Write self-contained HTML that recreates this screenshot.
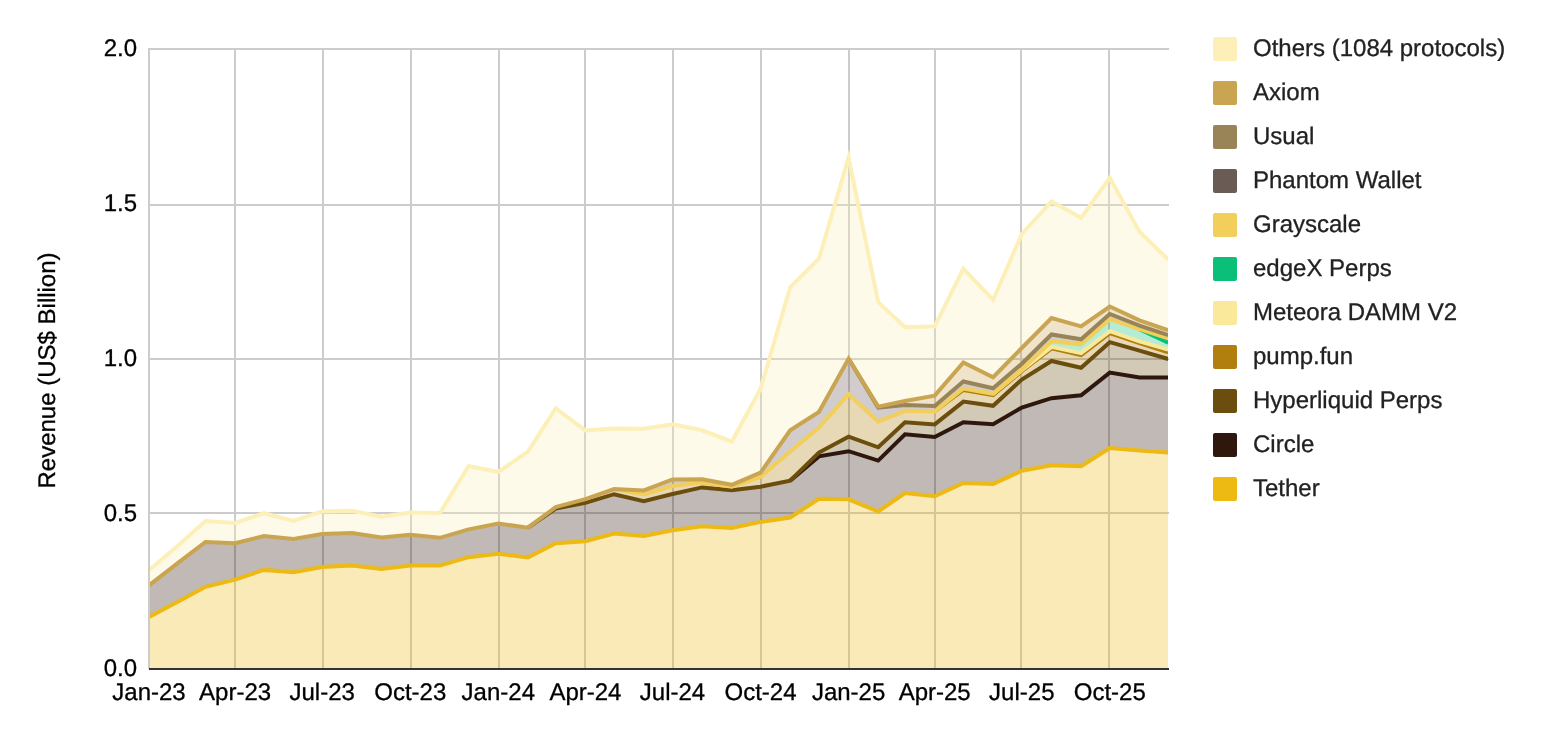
<!DOCTYPE html>
<html lang="en"><head><meta charset="utf-8"><title>Revenue (US$ Billion)</title>
<style>html,body{margin:0;padding:0;background:#fff}body{width:1542px;height:742px;overflow:hidden}svg{display:block}</style></head>
<body>
<svg width="1542" height="742" viewBox="0 0 1542 742" font-family="'Liberation Sans', Arial, sans-serif" font-size="24" text-rendering="geometricPrecision">
<defs><clipPath id="ca"><rect x="150" y="40" width="1018" height="640"/></clipPath></defs>
<rect width="1542" height="742" fill="#fff"/>
<g fill="#ccc">
<rect x="148" y="48" width="2" height="621"/>
<rect x="234" y="48" width="2" height="621"/>
<rect x="322" y="48" width="2" height="621"/>
<rect x="410" y="48" width="2" height="621"/>
<rect x="498" y="48" width="2" height="621"/>
<rect x="584" y="48" width="2" height="621"/>
<rect x="672" y="48" width="2" height="621"/>
<rect x="760" y="48" width="2" height="621"/>
<rect x="848" y="48" width="2" height="621"/>
<rect x="934" y="48" width="2" height="621"/>
<rect x="1020" y="48" width="2" height="621"/>
<rect x="1108" y="48" width="2" height="621"/>
<rect x="148" y="48" width="1021" height="2"/>
<rect x="148" y="204" width="1021" height="2"/>
<rect x="148" y="358" width="1021" height="2"/>
<rect x="148" y="512" width="1021" height="2"/>
</g>
<g clip-path="url(#ca)">
<polygon fill="#EDB913" fill-opacity="0.3" points="149,617.1 178.7,601.3 205.5,586.8 235.1,579.7 263.8,569.9 293.5,572.3 322.2,567.1 351.9,565.6 381.6,569 410.3,565.5 439.9,565.6 468.6,557.2 498.3,553.8 528,557.5 555.7,543.2 585.4,541.2 614.1,533.6 643.8,535.9 672.5,530.3 702.1,526.2 731.8,527.9 760.5,521.9 790.2,517.5 818.9,498.8 848.6,499.3 878.2,511.5 905,493 934.7,496.2 963.4,482.9 993.1,483.9 1021.8,470.8 1051.5,465.2 1081.1,466.3 1109.8,448 1139.5,450.6 1168.2,452.5 1168.2,668.4 1139.5,668.4 1109.8,668.4 1081.1,668.4 1051.5,668.4 1021.8,668.4 993.1,668.4 963.4,668.4 934.7,668.4 905,668.4 878.2,668.4 848.6,668.4 818.9,668.4 790.2,668.4 760.5,668.4 731.8,668.4 702.1,668.4 672.5,668.4 643.8,668.4 614.1,668.4 585.4,668.4 555.7,668.4 528,668.4 498.3,668.4 468.6,668.4 439.9,668.4 410.3,668.4 381.6,668.4 351.9,668.4 322.2,668.4 293.5,668.4 263.8,668.4 235.1,668.4 205.5,668.4 178.7,668.4 149,668.4"/>
<polygon fill="#2E180E" fill-opacity="0.3" points="149,585.4 178.7,562.3 205.5,542 235.1,543.2 263.8,536 293.5,539 322.2,534 351.9,533.1 381.6,537.4 410.3,534.8 439.9,537.8 468.6,529.4 498.3,523.5 528,527.7 555.7,508.5 585.4,502.9 614.1,494.2 643.8,501.2 672.5,494 702.1,487.4 731.8,490.3 760.5,486.7 790.2,480.6 818.9,456.4 848.6,451.2 878.2,460.6 905,434.3 934.7,437 963.4,422.2 993.1,424.2 1021.8,407.5 1051.5,398.2 1081.1,395.2 1109.8,372.6 1139.5,377.5 1168.2,377.6 1168.2,452.5 1139.5,450.6 1109.8,448 1081.1,466.3 1051.5,465.2 1021.8,470.8 993.1,483.9 963.4,482.9 934.7,496.2 905,493 878.2,511.5 848.6,499.3 818.9,498.8 790.2,517.5 760.5,521.9 731.8,527.9 702.1,526.2 672.5,530.3 643.8,535.9 614.1,533.6 585.4,541.2 555.7,543.2 528,557.5 498.3,553.8 468.6,557.2 439.9,565.6 410.3,565.5 381.6,569 351.9,565.6 322.2,567.1 293.5,572.3 263.8,569.9 235.1,579.7 205.5,586.8 178.7,601.3 149,617.1"/>
<polygon fill="#6B4D0E" fill-opacity="0.3" points="149,585.4 178.7,562.3 205.5,542 235.1,543.2 263.8,536 293.5,539 322.2,534 351.9,533.1 381.6,537.4 410.3,534.8 439.9,537.8 468.6,529.4 498.3,523.5 528,527.7 555.7,508.5 585.4,502.9 614.1,494.2 643.8,501.2 672.5,494 702.1,487.4 731.8,490.3 760.5,486.7 790.2,480.6 818.9,452.6 848.6,436.7 878.2,447.3 905,422.2 934.7,424.4 963.4,401.6 993.1,405.8 1021.8,379.5 1051.5,361 1081.1,367.7 1109.8,342.2 1139.5,350.7 1168.2,359 1168.2,377.6 1139.5,377.5 1109.8,372.6 1081.1,395.2 1051.5,398.2 1021.8,407.5 993.1,424.2 963.4,422.2 934.7,437 905,434.3 878.2,460.6 848.6,451.2 818.9,456.4 790.2,480.6 760.5,486.7 731.8,490.3 702.1,487.4 672.5,494 643.8,501.2 614.1,494.2 585.4,502.9 555.7,508.5 528,527.7 498.3,523.5 468.6,529.4 439.9,537.8 410.3,534.8 381.6,537.4 351.9,533.1 322.2,534 293.5,539 263.8,536 235.1,543.2 205.5,542 178.7,562.3 149,585.4"/>
<polygon fill="#B07F0D" fill-opacity="0.3" points="149,585.4 178.7,562.3 205.5,542 235.1,543.2 263.8,536 293.5,539 322.2,534 351.9,533.1 381.6,537.4 410.3,534.8 439.9,537.8 468.6,529.4 498.3,523.5 528,527.7 555.7,507.1 585.4,499.1 614.1,489.1 643.8,494.5 672.5,486 702.1,482.6 731.8,486.7 760.5,477 790.2,451.5 818.9,427.5 848.6,394.2 878.2,421.6 905,410.8 934.7,411.2 963.4,390 993.1,395.2 1021.8,371.2 1051.5,348.4 1081.1,355 1109.8,333.1 1139.5,343.2 1168.2,352.4 1168.2,359 1139.5,350.7 1109.8,342.2 1081.1,367.7 1051.5,361 1021.8,379.5 993.1,405.8 963.4,401.6 934.7,424.4 905,422.2 878.2,447.3 848.6,436.7 818.9,452.6 790.2,480.6 760.5,486.7 731.8,490.3 702.1,487.4 672.5,494 643.8,501.2 614.1,494.2 585.4,502.9 555.7,508.5 528,527.7 498.3,523.5 468.6,529.4 439.9,537.8 410.3,534.8 381.6,537.4 351.9,533.1 322.2,534 293.5,539 263.8,536 235.1,543.2 205.5,542 178.7,562.3 149,585.4"/>
<polygon fill="#FBE99B" fill-opacity="0.3" points="149,585.4 178.7,562.3 205.5,542 235.1,543.2 263.8,536 293.5,539 322.2,534 351.9,533.1 381.6,537.4 410.3,534.8 439.9,537.8 468.6,529.4 498.3,523.5 528,527.7 555.7,507.1 585.4,499.1 614.1,489.1 643.8,494.5 672.5,486 702.1,482.6 731.8,486.7 760.5,477 790.2,451.5 818.9,427.5 848.6,394.2 878.2,421.6 905,410.8 934.7,411.2 963.4,388.5 993.1,393.8 1021.8,370.2 1051.5,346.9 1081.1,353.1 1109.8,331.2 1139.5,341.3 1168.2,349.6 1168.2,352.4 1139.5,343.2 1109.8,333.1 1081.1,355 1051.5,348.4 1021.8,371.2 993.1,395.2 963.4,390 934.7,411.2 905,410.8 878.2,421.6 848.6,394.2 818.9,427.5 790.2,451.5 760.5,477 731.8,486.7 702.1,482.6 672.5,486 643.8,494.5 614.1,489.1 585.4,499.1 555.7,507.1 528,527.7 498.3,523.5 468.6,529.4 439.9,537.8 410.3,534.8 381.6,537.4 351.9,533.1 322.2,534 293.5,539 263.8,536 235.1,543.2 205.5,542 178.7,562.3 149,585.4"/>
<polygon fill="#0BBF78" fill-opacity="0.3" points="149,585.4 178.7,562.3 205.5,542 235.1,543.2 263.8,536 293.5,539 322.2,534 351.9,533.1 381.6,537.4 410.3,534.8 439.9,537.8 468.6,529.4 498.3,523.5 528,527.7 555.7,507.1 585.4,499.1 614.1,489.1 643.8,494.5 672.5,486 702.1,482.6 731.8,486.7 760.5,477 790.2,451.5 818.9,427.5 848.6,394.2 878.2,421.6 905,410.8 934.7,411.2 963.4,388.5 993.1,393.8 1021.8,369.4 1051.5,341.2 1081.1,344.3 1109.8,319.2 1139.5,329.2 1168.2,342.6 1168.2,349.6 1139.5,341.3 1109.8,331.2 1081.1,353.1 1051.5,346.9 1021.8,370.2 993.1,393.8 963.4,388.5 934.7,411.2 905,410.8 878.2,421.6 848.6,394.2 818.9,427.5 790.2,451.5 760.5,477 731.8,486.7 702.1,482.6 672.5,486 643.8,494.5 614.1,489.1 585.4,499.1 555.7,507.1 528,527.7 498.3,523.5 468.6,529.4 439.9,537.8 410.3,534.8 381.6,537.4 351.9,533.1 322.2,534 293.5,539 263.8,536 235.1,543.2 205.5,542 178.7,562.3 149,585.4"/>
<polygon fill="#F2CE5B" fill-opacity="0.3" points="149,585.4 178.7,562.3 205.5,542 235.1,543.2 263.8,536 293.5,539 322.2,534 351.9,533.1 381.6,537.4 410.3,534.8 439.9,537.8 468.6,529.4 498.3,523.5 528,527.7 555.7,507.1 585.4,499.1 614.1,489.1 643.8,494.5 672.5,486 702.1,482.6 731.8,486.7 760.5,477 790.2,451.5 818.9,427.5 848.6,394.2 878.2,421.6 905,410.8 934.7,411.2 963.4,388.5 993.1,393.8 1021.8,369.4 1051.5,341.2 1081.1,344.3 1109.8,319.2 1139.5,329.2 1168.2,338.4 1168.2,342.6 1139.5,329.2 1109.8,319.2 1081.1,344.3 1051.5,341.2 1021.8,369.4 993.1,393.8 963.4,388.5 934.7,411.2 905,410.8 878.2,421.6 848.6,394.2 818.9,427.5 790.2,451.5 760.5,477 731.8,486.7 702.1,482.6 672.5,486 643.8,494.5 614.1,489.1 585.4,499.1 555.7,507.1 528,527.7 498.3,523.5 468.6,529.4 439.9,537.8 410.3,534.8 381.6,537.4 351.9,533.1 322.2,534 293.5,539 263.8,536 235.1,543.2 205.5,542 178.7,562.3 149,585.4"/>
<polygon fill="#6B5B55" fill-opacity="0.3" points="149,585.4 178.7,562.3 205.5,542 235.1,543.2 263.8,536 293.5,539 322.2,534 351.9,533.1 381.6,537.4 410.3,534.8 439.9,537.8 468.6,529.4 498.3,523.5 528,527.7 555.7,507.1 585.4,499.1 614.1,489.1 643.8,490.4 672.5,479.4 702.1,479.2 731.8,484.8 760.5,472.6 790.2,430.3 818.9,412 848.6,358.7 878.2,407.6 905,404.9 934.7,406 963.4,381.5 993.1,388.3 1021.8,363.7 1051.5,334.5 1081.1,339.3 1109.8,314 1139.5,325.7 1168.2,335.1 1168.2,338.4 1139.5,329.2 1109.8,319.2 1081.1,344.3 1051.5,341.2 1021.8,369.4 993.1,393.8 963.4,388.5 934.7,411.2 905,410.8 878.2,421.6 848.6,394.2 818.9,427.5 790.2,451.5 760.5,477 731.8,486.7 702.1,482.6 672.5,486 643.8,494.5 614.1,489.1 585.4,499.1 555.7,507.1 528,527.7 498.3,523.5 468.6,529.4 439.9,537.8 410.3,534.8 381.6,537.4 351.9,533.1 322.2,534 293.5,539 263.8,536 235.1,543.2 205.5,542 178.7,562.3 149,585.4"/>
<polygon fill="#998458" fill-opacity="0.3" points="149,585.4 178.7,562.3 205.5,542 235.1,543.2 263.8,536 293.5,539 322.2,534 351.9,533.1 381.6,537.4 410.3,534.8 439.9,537.8 468.6,529.4 498.3,523.5 528,527.7 555.7,507.1 585.4,499.1 614.1,489.1 643.8,490.4 672.5,479.4 702.1,479.2 731.8,484.8 760.5,472.6 790.2,430.3 818.9,412 848.6,358.7 878.2,407.6 905,404.9 934.7,406 963.4,381.5 993.1,388.3 1021.8,363.7 1051.5,334.5 1081.1,339.3 1109.8,314 1139.5,325.7 1168.2,335.1 1168.2,335.1 1139.5,325.7 1109.8,314 1081.1,339.3 1051.5,334.5 1021.8,363.7 993.1,388.3 963.4,381.5 934.7,406 905,404.9 878.2,407.6 848.6,358.7 818.9,412 790.2,430.3 760.5,472.6 731.8,484.8 702.1,479.2 672.5,479.4 643.8,490.4 614.1,489.1 585.4,499.1 555.7,507.1 528,527.7 498.3,523.5 468.6,529.4 439.9,537.8 410.3,534.8 381.6,537.4 351.9,533.1 322.2,534 293.5,539 263.8,536 235.1,543.2 205.5,542 178.7,562.3 149,585.4"/>
<polygon fill="#C9A552" fill-opacity="0.3" points="149,585.4 178.7,562.3 205.5,542 235.1,543.2 263.8,536 293.5,539 322.2,534 351.9,533.1 381.6,537.4 410.3,534.8 439.9,537.8 468.6,529.4 498.3,523.5 528,527.7 555.7,507.1 585.4,499.1 614.1,489.1 643.8,490.4 672.5,479.4 702.1,479.2 731.8,484.8 760.5,472.6 790.2,430.3 818.9,412 848.6,358.7 878.2,406.6 905,401 934.7,395.6 963.4,362.5 993.1,377.2 1021.8,348 1051.5,318 1081.1,326.4 1109.8,306.5 1139.5,320.3 1168.2,330.3 1168.2,335.1 1139.5,325.7 1109.8,314 1081.1,339.3 1051.5,334.5 1021.8,363.7 993.1,388.3 963.4,381.5 934.7,406 905,404.9 878.2,407.6 848.6,358.7 818.9,412 790.2,430.3 760.5,472.6 731.8,484.8 702.1,479.2 672.5,479.4 643.8,490.4 614.1,489.1 585.4,499.1 555.7,507.1 528,527.7 498.3,523.5 468.6,529.4 439.9,537.8 410.3,534.8 381.6,537.4 351.9,533.1 322.2,534 293.5,539 263.8,536 235.1,543.2 205.5,542 178.7,562.3 149,585.4"/>
<polygon fill="#FCEFB8" fill-opacity="0.3" points="149,570.3 178.7,545 205.5,521 235.1,523 263.8,513.2 293.5,521 322.2,511.2 351.9,510.7 381.6,516.8 410.3,512.5 439.9,513 468.6,466.1 498.3,472 528,451.6 555.7,408.5 585.4,430.4 614.1,428.6 643.8,428.8 672.5,424.2 702.1,430.3 731.8,441.7 760.5,388.9 790.2,287.2 818.9,258.9 848.6,157.6 878.2,302.1 905,327.2 934.7,326.3 963.4,268.7 993.1,300 1021.8,234 1051.5,201.4 1081.1,217.8 1109.8,177.8 1139.5,231.7 1168.2,259.6 1168.2,330.3 1139.5,320.3 1109.8,306.5 1081.1,326.4 1051.5,318 1021.8,348 993.1,377.2 963.4,362.5 934.7,395.6 905,401 878.2,406.6 848.6,358.7 818.9,412 790.2,430.3 760.5,472.6 731.8,484.8 702.1,479.2 672.5,479.4 643.8,490.4 614.1,489.1 585.4,499.1 555.7,507.1 528,527.7 498.3,523.5 468.6,529.4 439.9,537.8 410.3,534.8 381.6,537.4 351.9,533.1 322.2,534 293.5,539 263.8,536 235.1,543.2 205.5,542 178.7,562.3 149,585.4"/>
</g>
<rect x="149" y="668" width="1020" height="2" fill="#333"/>
<g clip-path="url(#ca)" fill="none" stroke-width="4" stroke-linejoin="miter" stroke-miterlimit="10">
<polyline stroke="#EDB913" points="149,617.1 178.7,601.3 205.5,586.8 235.1,579.7 263.8,569.9 293.5,572.3 322.2,567.1 351.9,565.6 381.6,569 410.3,565.5 439.9,565.6 468.6,557.2 498.3,553.8 528,557.5 555.7,543.2 585.4,541.2 614.1,533.6 643.8,535.9 672.5,530.3 702.1,526.2 731.8,527.9 760.5,521.9 790.2,517.5 818.9,498.8 848.6,499.3 878.2,511.5 905,493 934.7,496.2 963.4,482.9 993.1,483.9 1021.8,470.8 1051.5,465.2 1081.1,466.3 1109.8,448 1139.5,450.6 1168.2,452.5"/>
<polyline stroke="#2E180E" points="790.2,480.6 818.9,456.4 848.6,451.2 878.2,460.6 905,434.3 934.7,437 963.4,422.2 993.1,424.2 1021.8,407.5 1051.5,398.2 1081.1,395.2 1109.8,372.6 1139.5,377.5 1168.2,377.6"/>
<polyline stroke="#6B4D0E" points="528,527.7 555.7,508.5 585.4,502.9 614.1,494.2 643.8,501.2 672.5,494 702.1,487.4 731.8,490.3 760.5,486.7 790.2,480.6 818.9,452.6 848.6,436.7 878.2,447.3 905,422.2 934.7,424.4 963.4,401.6 993.1,405.8 1021.8,379.5 1051.5,361 1081.1,367.7 1109.8,342.2 1139.5,350.7 1168.2,359"/>
<polyline stroke="#B07F0D" points="934.7,411.2 963.4,390 993.1,395.2 1021.8,371.2 1051.5,348.4 1081.1,355 1109.8,333.1 1139.5,343.2 1168.2,352.4"/>
<polyline stroke="#FBE99B" points="993.1,393.8 1021.8,370.2 1051.5,346.9 1081.1,353.1 1109.8,331.2 1139.5,341.3 1168.2,349.6"/>
<polyline stroke="#0BBF78" points="1139.5,329.2 1168.2,342.6"/>
<polyline stroke="#F2CE5B" points="614.1,489.1 643.8,494.5 672.5,486 702.1,482.6 731.8,486.7 760.5,477 790.2,451.5 818.9,427.5 848.6,394.2 878.2,421.6 905,410.8 934.7,411.2 963.4,388.5 993.1,393.8 1021.8,369.4 1051.5,341.2 1081.1,344.3 1109.8,319.2 1139.5,329.2 1168.2,338.4"/>
<polyline stroke="#998458" points="848.6,358.7 878.2,407.6 905,404.9 934.7,406 963.4,381.5 993.1,388.3 1021.8,363.7 1051.5,334.5 1081.1,339.3 1109.8,314 1139.5,325.7 1168.2,335.1"/>
<polyline stroke="#C9A552" points="149,585.4 178.7,562.3 205.5,542 235.1,543.2 263.8,536 293.5,539 322.2,534 351.9,533.1 381.6,537.4 410.3,534.8 439.9,537.8 468.6,529.4 498.3,523.5 528,527.7 555.7,507.1 585.4,499.1 614.1,489.1 643.8,490.4 672.5,479.4 702.1,479.2 731.8,484.8 760.5,472.6 790.2,430.3 818.9,412 848.6,358.7 878.2,406.6 905,401 934.7,395.6 963.4,362.5 993.1,377.2 1021.8,348 1051.5,318 1081.1,326.4 1109.8,306.5 1139.5,320.3 1168.2,330.3"/>
<polyline stroke="#FCEFB8" points="149,570.3 178.7,545 205.5,521 235.1,523 263.8,513.2 293.5,521 322.2,511.2 351.9,510.7 381.6,516.8 410.3,512.5 439.9,513 468.6,466.1 498.3,472 528,451.6 555.7,408.5 585.4,430.4 614.1,428.6 643.8,428.8 672.5,424.2 702.1,430.3 731.8,441.7 760.5,388.9 790.2,287.2 818.9,258.9 848.6,157.6 878.2,302.1 905,327.2 934.7,326.3 963.4,268.7 993.1,300 1021.8,234 1051.5,201.4 1081.1,217.8 1109.8,177.8 1139.5,231.7 1168.2,259.6"/>
</g>
<g fill="#000" stroke="#000" stroke-width="0.3" text-anchor="end">
<text x="137" y="56">2.0</text>
<text x="137" y="211">1.5</text>
<text x="137" y="366">1.0</text>
<text x="137" y="521">0.5</text>
<text x="137" y="676">0.0</text>
</g>
<g fill="#000" stroke="#000" stroke-width="0.3" text-anchor="middle">
<text x="149" y="700">Jan-23</text>
<text x="235.1" y="700">Apr-23</text>
<text x="322.2" y="700">Jul-23</text>
<text x="410.3" y="700">Oct-23</text>
<text x="498.3" y="700">Jan-24</text>
<text x="585.4" y="700">Apr-24</text>
<text x="672.5" y="700">Jul-24</text>
<text x="760.5" y="700">Oct-24</text>
<text x="848.6" y="700">Jan-25</text>
<text x="934.7" y="700">Apr-25</text>
<text x="1021.8" y="700">Jul-25</text>
<text x="1109.8" y="700">Oct-25</text>
</g>
<text fill="#000" stroke="#000" stroke-width="0.3" text-anchor="middle" transform="translate(55.3 370.5) rotate(-90)">Revenue (US$ Billion)</text>
<g fill="#222" stroke="#222" stroke-width="0.3">
<rect x="1213" y="37" width="24" height="24" rx="2" fill="#FCEFB8" stroke="none"/>
<text x="1253" y="56">Others (1084 protocols)</text>
<rect x="1213" y="81" width="24" height="24" rx="2" fill="#C9A552" stroke="none"/>
<text x="1253" y="100">Axiom</text>
<rect x="1213" y="125" width="24" height="24" rx="2" fill="#998458" stroke="none"/>
<text x="1253" y="144">Usual</text>
<rect x="1213" y="169" width="24" height="24" rx="2" fill="#6B5B55" stroke="none"/>
<text x="1253" y="188">Phantom Wallet</text>
<rect x="1213" y="213" width="24" height="24" rx="2" fill="#F2CE5B" stroke="none"/>
<text x="1253" y="232">Grayscale</text>
<rect x="1213" y="257" width="24" height="24" rx="2" fill="#0BBF78" stroke="none"/>
<text x="1253" y="276">edgeX Perps</text>
<rect x="1213" y="301" width="24" height="24" rx="2" fill="#FBE99B" stroke="none"/>
<text x="1253" y="320">Meteora DAMM V2</text>
<rect x="1213" y="345" width="24" height="24" rx="2" fill="#B07F0D" stroke="none"/>
<text x="1253" y="364">pump.fun</text>
<rect x="1213" y="389" width="24" height="24" rx="2" fill="#6B4D0E" stroke="none"/>
<text x="1253" y="408">Hyperliquid Perps</text>
<rect x="1213" y="433" width="24" height="24" rx="2" fill="#2E180E" stroke="none"/>
<text x="1253" y="452">Circle</text>
<rect x="1213" y="477" width="24" height="24" rx="2" fill="#EDB913" stroke="none"/>
<text x="1253" y="496">Tether</text>
</g>
</svg>
</body></html>
